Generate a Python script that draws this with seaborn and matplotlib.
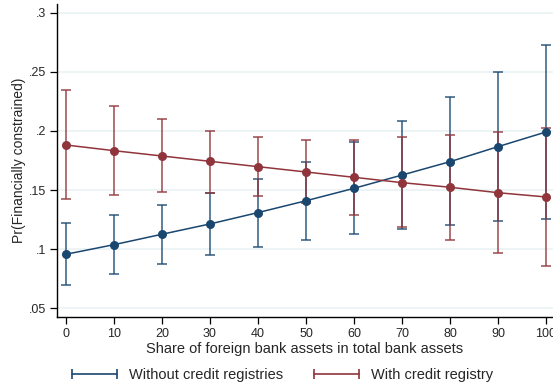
import numpy as np
import pandas as pd
import seaborn as sns
import matplotlib
matplotlib.use("Agg")
import matplotlib.pyplot as plt
from matplotlib.lines import Line2D

# Share of foreign bank assets (%)
share = [0, 10, 20, 30, 40, 50, 60, 70, 80, 90, 100]

# Predicted probability and 95% CI, countries without credit registries
without_pr = [0.0958, 0.1039, 0.1127, 0.1214, 0.1310, 0.1410, 0.1515, 0.1627, 0.1740, 0.1867, 0.1991]
without_lo = [0.0696, 0.0789, 0.0876, 0.0954, 0.1022, 0.1080, 0.1132, 0.1171, 0.1208, 0.1236, 0.1258]
without_hi = [0.1220, 0.1290, 0.1374, 0.1478, 0.1596, 0.1740, 0.1909, 0.2086, 0.2284, 0.2501, 0.2723]

# Predicted probability and 95% CI, countries with a credit registry
with_pr = [0.1881, 0.1833, 0.1788, 0.1743, 0.1698, 0.1653, 0.1608, 0.1563, 0.1524, 0.1478, 0.1442]
with_lo = [0.1422, 0.1459, 0.1481, 0.1478, 0.1450, 0.1389, 0.1292, 0.1186, 0.1079, 0.0971, 0.0859]
with_hi = [0.2345, 0.2210, 0.2098, 0.2002, 0.1946, 0.1923, 0.1926, 0.1946, 0.1965, 0.1993, 0.2022]

series_names = ["Without credit registries", "With credit registry"]
y_ticks = [0.05, 0.10, 0.15, 0.20, 0.25, 0.30]
y_tick_labels = [".05", ".1", ".15", ".2", ".25", ".3"]

navy = "#1a476f"
maroon = "#90353b"
grid_col = "#eaf2f3"

sns.set_theme(style="white")
plt.rcParams["font.family"] = ["Liberation Sans", "DejaVu Sans"]

df = pd.concat([
    pd.DataFrame({"share": share, "pr": without_pr, "group": series_names[0]}),
    pd.DataFrame({"share": share, "pr": with_pr, "group": series_names[1]}),
])

fig = plt.figure(figsize=(5.53, 3.88), dpi=100)
ax = fig.add_axes([57 / 553, 1 - 317 / 388, 1 - 57 / 553, (317 - 4) / 388])

# horizontal grid
for t in y_ticks:
    ax.axhline(t, color=grid_col, lw=1.2, zorder=0)

# confidence intervals as capped bars
for pr, lo, hi, col in [(without_pr, without_lo, without_hi, navy),
                        (with_pr, with_lo, with_hi, maroon)]:
    pr = np.array(pr)
    ax.errorbar(share, pr, yerr=[pr - np.array(lo), np.array(hi) - pr],
                fmt="none", ecolor=col, elinewidth=1.4, capsize=3.4,
                capthick=1.4, alpha=0.7, zorder=2)

sns.lineplot(data=df, x="share", y="pr", hue="group",
             palette=[navy, maroon], hue_order=series_names,
             marker="o", markersize=6.5, markeredgewidth=0, linewidth=1.1,
             legend=False, ax=ax, zorder=3)

ax.set_xlim(-1.875, 101.46)
ax.set_ylim(0.0428, 0.3072)
ax.set_xticks(share)
ax.set_xticklabels([str(s) for s in share])
ax.set_yticks(y_ticks)
ax.set_yticklabels(y_tick_labels)

for s in ["top", "right"]:
    ax.spines[s].set_visible(False)
for s in ["left", "bottom"]:
    ax.spines[s].set_color("black")
    ax.spines[s].set_linewidth(1.0)

ax.tick_params(axis="both", which="both", direction="out", length=5,
               width=0.9, color="black", labelsize=9, pad=3,
               left=True, bottom=True)
ax.set_xlabel("Share of foreign bank assets in total bank assets",
              fontsize=10.5, labelpad=1)
ax.set_ylabel("Pr(Financially constrained)", fontsize=10, labelpad=2)

handles = [Line2D([0], [0], color=c, lw=1.2, marker="|", markersize=7,
                  markeredgewidth=1.2) for c in (navy, maroon)]
fig.legend(handles, series_names, loc="center", bbox_to_anchor=(0.507, 1 - 375 / 388),
           ncol=2, frameon=False, numpoints=2, handlelength=3.7,
           fontsize=10.5, columnspacing=1.8, handletextpad=0.55)

fig.savefig("out.png", dpi=100)
